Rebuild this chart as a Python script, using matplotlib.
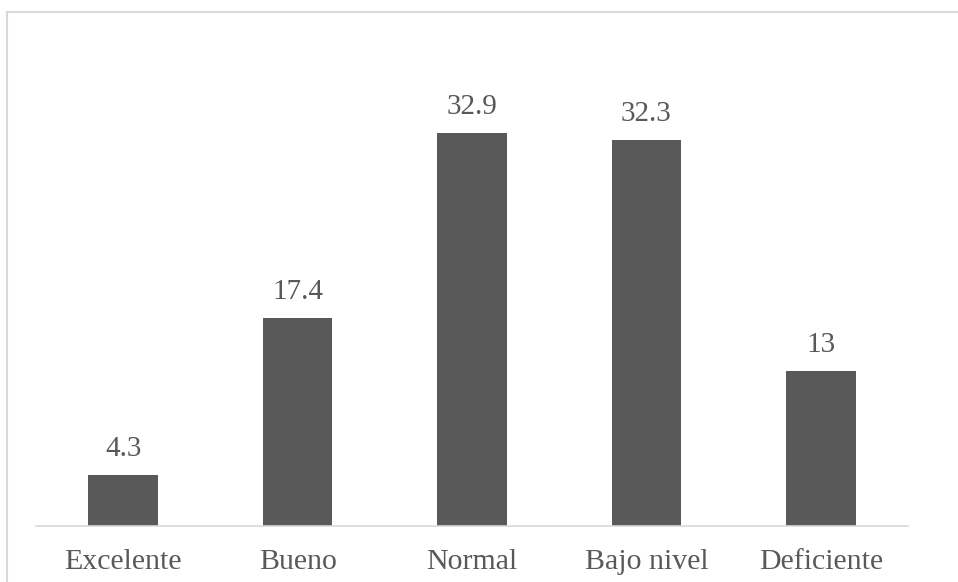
import matplotlib.pyplot as plt
from matplotlib.patches import Rectangle

categorias = ["Excelente", "Bueno", "Normal", "Bajo nivel", "Deficiente"]
porcentajes = [4.3, 17.4, 32.9, 32.3, 13]
etiquetas = ["4.3", "17.4", "32.9", "32.3", "13"]

plt.rcParams['font.family'] = ['Liberation Serif', 'DejaVu Serif']

fig = plt.figure(figsize=(9.58, 5.82), dpi=100)
ax = fig.add_axes([36 / 958, 56 / 582, 872 / 958, 478 / 582])

x = range(len(categorias))
bars = ax.bar(x, porcentajes, width=0.4, color="#595959", zorder=2)

for b, txt in zip(bars, etiquetas):
    ax.annotate(txt, (b.get_x() + b.get_width() / 2, b.get_height()),
                xytext=(0, 13.7), textcoords="offset points",
                ha="center", va="baseline", fontsize=21, color="#595959")

ax.set_xlim(-0.5, 4.5)
ax.set_ylim(0, 40)
ax.set_xticks(list(x))
ax.set_xticklabels(categorias, fontsize=21.5, color="#595959")
ax.tick_params(axis="x", length=0, pad=16.5)
ax.set_yticks([])
for s in ["top", "right", "left"]:
    ax.spines[s].set_visible(False)
ax.spines["bottom"].set_color("#d9d9d9")
ax.spines["bottom"].set_linewidth(1.2)

# marco gris alrededor del gráfico
fig.patches.append(Rectangle((6.5 / 958, -0.1), 1.2, 1 - 12 / 582 + 0.1,
                             transform=fig.transFigure, fill=False,
                             edgecolor="#d9d9d9", linewidth=1.5))

fig.savefig("out.png", dpi=100)
